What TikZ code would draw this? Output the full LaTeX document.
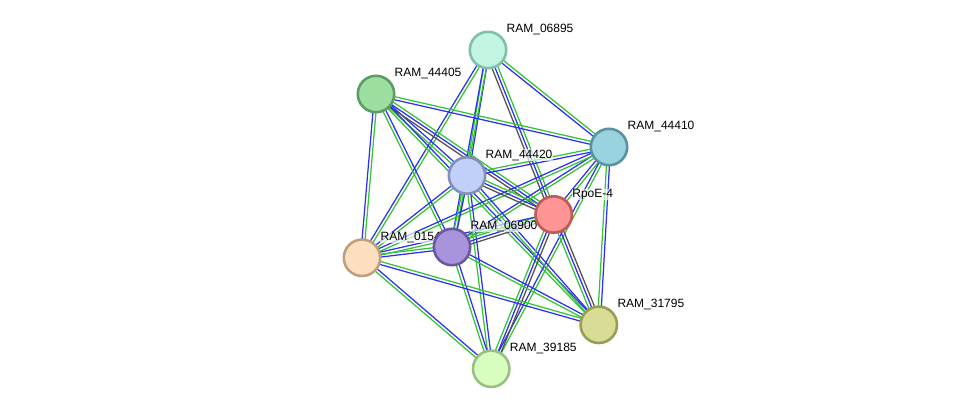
\documentclass[tikz,border=0pt]{standalone}
\usepackage{fontspec}
\setmainfont{Liberation Sans}
\usetikzlibrary{calc}
\definecolor{eg}{HTML}{33C633}
\definecolor{eb}{HTML}{3030F5}
\definecolor{ek}{HTML}{505050}
\tikzset{
  gl/.style={draw=eg, line width=1.25pt},
  bl/.style={draw=eb, line width=1.25pt},
  kl/.style={draw=ek, line width=1.25pt},
  prot/.style={circle, minimum size=36.4pt, inner sep=0pt, line width=2.6pt},
  lbl/.style={anchor=base west, inner xsep=0.6pt, inner ysep=0.4pt, font=\fontsize{12}{14}\selectfont, text=black, fill=white, fill opacity=0.65, text opacity=1},
}
\newcommand\eline[4]{\draw[#3] ($(#1)!#4!90:(#2)$) -- ($(#2)!#4!-90:(#1)$);}
\newcommand\edgegb[2]{\eline{#1}{#2}{gl}{1.5pt}\eline{#1}{#2}{bl}{-1.5pt}}
\newcommand\edgebg[2]{\eline{#1}{#2}{bl}{1.5pt}\eline{#1}{#2}{gl}{-1.5pt}}
\newcommand\edgekbg[2]{\eline{#1}{#2}{kl}{3pt}\eline{#1}{#2}{bl}{0pt}\eline{#1}{#2}{gl}{-3pt}}
\newcommand\protlabel[3]{\node[lbl] (#1) at ($(#2)+(17.9,-17.3)$) {#3};}
\begin{document}
\begin{tikzpicture}[x=1pt,y=-1pt]
\useasboundingbox (0,0) rectangle (975,414);
\coordinate (A) at (488,50);
\coordinate (B) at (376,94);
\coordinate (C) at (609,147);
\coordinate (D) at (467,175.5);
\coordinate (E) at (553.7,214.5);
\coordinate (F) at (452,247);
\coordinate (G) at (362,257.8);
\coordinate (H) at (598.8,324.8);
\coordinate (I) at (491.2,368.8);
% edges
\edgegb{A}{C}
\edgebg{A}{D}
\edgegb{A}{F}
\edgekbg{E}{A}
\edgegb{A}{G}
\edgegb{B}{C}
\edgebg{B}{D}
\edgekbg{E}{B}
\edgebg{B}{F}
\edgegb{B}{G}
\edgebg{B}{H}
\edgebg{C}{D}
\edgegb{C}{E}
\edgegb{C}{F}
\edgegb{C}{G}
\edgebg{C}{H}
\edgegb{C}{I}
\edgekbg{E}{D}
\edgebg{D}{F}
\edgegb{D}{G}
\edgebg{D}{H}
\edgebg{D}{I}
\edgekbg{E}{F}
\edgegb{E}{G}
\edgekbg{E}{H}
\edgekbg{E}{I}
\edgebg{F}{G}
\edgebg{F}{H}
\edgebg{F}{I}
\edgegb{G}{H}
\edgebg{G}{I}
% labels
\protlabel{lA}{A}{RAM\_06895}
\protlabel{lB}{B}{RAM\_44405}
\protlabel{lC}{C}{RAM\_44410}
\protlabel{lD}{D}{RAM\_44420}
\protlabel{lE}{E}{RpoE-4}
\protlabel{lF}{F}{RAM\_06900}
\protlabel{lG}{G}{RAM\_01545}
\protlabel{lH}{H}{RAM\_31795}
\protlabel{lI}{I}{RAM\_39185}
% nodes
\node[prot, fill={rgb,255:red,194;green,246;blue,226}, draw={rgb,255:red,127;green,192;blue,168}] (nA) at (A) {};
\node[prot, fill={rgb,255:red,157;green,223;blue,160}, draw={rgb,255:red,92;green,158;blue,98}] (nB) at (B) {};
\node[prot, fill={rgb,255:red,153;green,211;blue,223}, draw={rgb,255:red,90;green,147;blue,160}] (nC) at (C) {};
\node[prot, fill={rgb,255:red,192;green,208;blue,250}, draw={rgb,255:red,128;green,144;blue,184}] (nD) at (D) {};
\node[prot, fill={rgb,255:red,254;green,148;blue,148}, draw={rgb,255:red,190;green,90;blue,90}] (nE) at (E) {};
\node[prot, fill={rgb,255:red,168;green,148;blue,220}, draw={rgb,255:red,106;green,88;blue,156}] (nF) at (F) {};
\node[prot, fill={rgb,255:red,254;green,224;blue,192}, draw={rgb,255:red,190;green,160;blue,128}] (nG) at (G) {};
\node[prot, fill={rgb,255:red,217;green,220;blue,148}, draw={rgb,255:red,154;green,157;blue,86}] (nH) at (H) {};
\node[prot, fill={rgb,255:red,216;green,254;blue,192}, draw={rgb,255:red,154;green,190;blue,132}] (nI) at (I) {};
\end{tikzpicture}
\end{document}
